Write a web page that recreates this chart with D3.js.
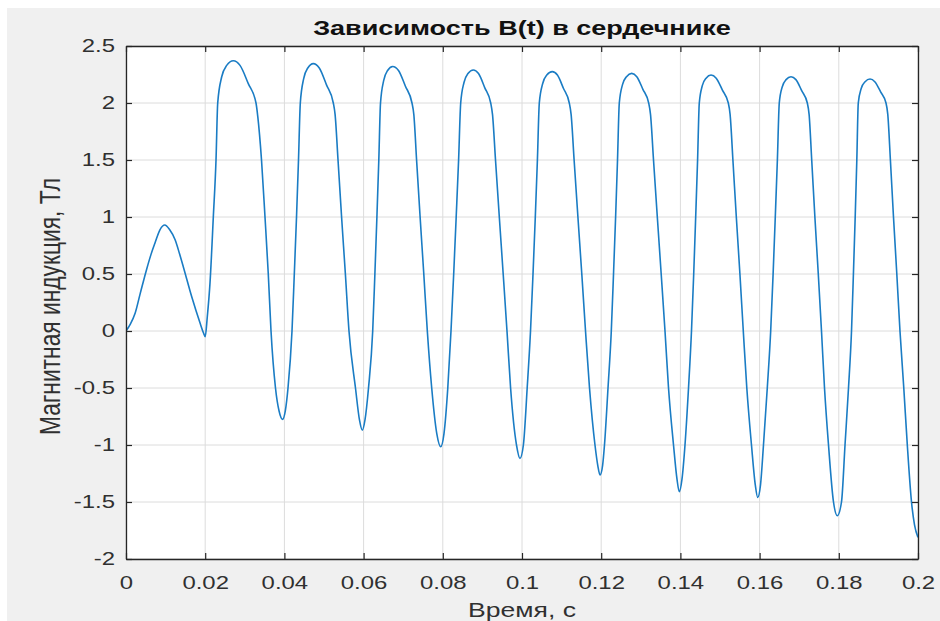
<!DOCTYPE html>
<html>
<head>
<meta charset="utf-8">
<script src="https://cdn.jsdelivr.net/npm/d3@7/dist/d3.min.js"></script>
<style>
  body { margin: 0; background: #ffffff; }
  svg text { font-family: "Liberation Sans", Arial, Helvetica, sans-serif; }
</style>
</head>
<body>
<svg id="chart" width="940" height="621"></svg>
<script>
// Time samples, s (one row per supply period)
const time = [
  0, 0.0011, 0.0023, 0.0036, 0.0052, 0.0063, 0.0073, 0.0086, 0.0098, 0.0110, 0.0124, 0.0135, 0.0145, 0.0166, 0.0187, 0.0196, 0.0200,
  0.02053, 0.02121, 0.02205, 0.02273, 0.02316, 0.02417, 0.02543, 0.02710, 0.02879, 0.03088, 0.03283, 0.03328, 0.03422, 0.03510, 0.03593, 0.03662, 0.03775, 0.03864, 0.03952, 0.04023, 0.04091, 0.04192,
  0.04250, 0.04306, 0.04356, 0.04402, 0.04487, 0.04591, 0.04730, 0.04881, 0.05063, 0.05235, 0.05280, 0.05354, 0.05444, 0.05540, 0.05631, 0.05795, 0.05896, 0.05967, 0.06035, 0.06124, 0.06230,
  0.06285, 0.06336, 0.06384, 0.06427, 0.06508, 0.06606, 0.06735, 0.06881, 0.07056, 0.07222, 0.07268, 0.07338, 0.07427, 0.07520, 0.07609, 0.07720, 0.07848, 0.07947, 0.08030, 0.08126, 0.08207,
  0.08275, 0.08338, 0.08399, 0.08452, 0.08535, 0.08636, 0.08770, 0.08902, 0.09061, 0.09210, 0.09255, 0.09331, 0.09427, 0.09525, 0.09621, 0.09712, 0.09861, 0.09949, 0.10035, 0.10131, 0.10215,
  0.10278, 0.10336, 0.10389, 0.10437, 0.10523, 0.10626, 0.10765, 0.10894, 0.11048, 0.11194, 0.11240, 0.11316, 0.11412, 0.11510, 0.11604, 0.11705, 0.11843, 0.11914, 0.11970, 0.12035, 0.12083, 0.12172, 0.12255,
  0.12311, 0.12364, 0.12412, 0.12457, 0.12538, 0.12639, 0.12770, 0.12899, 0.13053, 0.13199, 0.13245, 0.13321, 0.13417, 0.13515, 0.13611, 0.13700, 0.13826, 0.13914, 0.13972, 0.14040, 0.14116, 0.14205, 0.14280,
  0.14336, 0.14386, 0.14434, 0.14477, 0.14553, 0.14649, 0.14773, 0.14904, 0.15061, 0.15210, 0.15255, 0.15326, 0.15412, 0.15503, 0.15588, 0.15677, 0.15795, 0.15891, 0.15952, 0.16023, 0.16098, 0.16194, 0.16280,
  0.16341, 0.16396, 0.16449, 0.16497, 0.16573, 0.16669, 0.16793, 0.16917, 0.17066, 0.17205, 0.17250, 0.17316, 0.17396, 0.17482, 0.17563, 0.17639, 0.17740, 0.17866, 0.17962, 0.18068, 0.18157, 0.18245, 0.18321,
  0.18369, 0.18414, 0.18455, 0.18492, 0.18568, 0.18664, 0.18788, 0.18909, 0.19056, 0.19192, 0.19237, 0.19303, 0.19381, 0.19465, 0.19545, 0.19641, 0.19730, 0.19836, 0.19912, 0.20000
];

// Magnetic induction in the core, T
const induction = [
  0, 0.06, 0.155, 0.33, 0.54, 0.67, 0.77, 0.89, 0.93, 0.89, 0.80, 0.68, 0.56, 0.30, 0.07, -0.02, -0.05,
  0.125, 0.42, 1.0, 1.5, 2.0, 2.23, 2.33, 2.37, 2.33, 2.17, 2.0, 1.88, 1.5, 1.0, 0.5, 0, -0.5, -0.7, -0.775, -0.7, -0.5, 0,
  0.5, 1.0, 1.5, 2.0, 2.214, 2.307, 2.345, 2.307, 2.159, 2.0, 1.9, 1.5, 1.0, 0.5, 0, -0.5, -0.78, -0.87, -0.78, -0.5, 0,
  0.5, 1.0, 1.5, 2.0, 2.198, 2.285, 2.32, 2.285, 2.147, 2.0, 1.9, 1.5, 1.0, 0.5, 0, -0.5, -0.9, -1.015, -0.9, -0.5, 0,
  0.5, 1.0, 1.5, 2.0, 2.18, 2.258, 2.29, 2.258, 2.133, 2.0, 1.9, 1.5, 1.0, 0.5, 0, -0.5, -1.0, -1.117, -1.0, -0.5, 0,
  0.5, 1.0, 1.5, 2.0, 2.171, 2.245, 2.275, 2.245, 2.127, 2.0, 1.9, 1.5, 1.0, 0.5, 0, -0.5, -1.0, -1.18, -1.263, -1.18, -1.0, -0.5, 0,
  0.5, 1.0, 1.5, 2.0, 2.161, 2.231, 2.26, 2.231, 2.12, 2.0, 1.9, 1.5, 1.0, 0.5, 0, -0.5, -1.0, -1.3, -1.41, -1.3, -1.0, -0.5, 0,
  0.5, 1.0, 1.5, 2.0, 2.152, 2.218, 2.245, 2.218, 2.113, 2.0, 1.9, 1.5, 1.0, 0.5, 0, -0.5, -1.0, -1.35, -1.46, -1.35, -1.0, -0.5, 0,
  0.5, 1.0, 1.5, 2.0, 2.143, 2.205, 2.23, 2.205, 2.106, 2.0, 1.9, 1.5, 1.0, 0.5, 0, -0.5, -1.0, -1.5, -1.62, -1.5, -1.0, -0.5, 0,
  0.5, 1.0, 1.5, 2.0, 2.13, 2.187, 2.21, 2.187, 2.097, 2.0, 1.9, 1.5, 1.0, 0.5, 0, -0.5, -1.0, -1.5, -1.7, -1.81
];

const xTicks = [0, 0.02, 0.04, 0.06, 0.08, 0.1, 0.12, 0.14, 0.16, 0.18, 0.2];
const xTickLabels = ["0", "0.02", "0.04", "0.06", "0.08", "0.1", "0.12", "0.14", "0.16", "0.18", "0.2"];
const yTicks = [-2, -1.5, -1, -0.5, 0, 0.5, 1, 1.5, 2, 2.5];
const yTickLabels = ["-2", "-1.5", "-1", "-0.5", "0", "0.5", "1", "1.5", "2", "2.5"];

const titleText = "Зависимость B(t) в сердечнике";
const xLabelText = "Время, с";
const yLabelText = "Магнитная индукция, Тл";

// ---- layout ----
const W = 940, H = 621;
const box = { left: 126, top: 46, right: 918, bottom: 559 };
const stretch = 1.33;           // horizontal stretch of all lettering
const axisColor = "#262626";

const svg = d3.select("#chart");

svg.append("rect").attr("width", W).attr("height", H).attr("fill", "#ffffff");
svg.append("rect").attr("x", 7).attr("y", 8).attr("width", W - 7).attr("height", H - 8).attr("fill", "#f0f0f0");

const x = d3.scaleLinear().domain([0, 0.2]).range([box.left, box.right]);
const y = d3.scaleLinear().domain([-2, 2.5]).range([box.bottom, box.top]);

// plot area
svg.append("rect")
  .attr("x", box.left).attr("y", box.top)
  .attr("width", box.right - box.left).attr("height", box.bottom - box.top)
  .attr("fill", "#ffffff");

// grid
const grid = svg.append("g").attr("stroke", "#dcdcdc").attr("stroke-width", 1);
grid.selectAll("line.v").data(xTicks).join("line").attr("class", "v")
  .attr("x1", d => x(d)).attr("x2", d => x(d))
  .attr("y1", box.top).attr("y2", box.bottom);
grid.selectAll("line.h").data(yTicks).join("line").attr("class", "h")
  .attr("x1", box.left).attr("x2", box.right)
  .attr("y1", d => y(d)).attr("y2", d => y(d));

// curve B(t)
svg.append("clipPath").attr("id", "plotClip")
  .append("rect")
  .attr("x", box.left).attr("y", box.top)
  .attr("width", box.right - box.left).attr("height", box.bottom - box.top);

const points = time.map((t, i) => [t, induction[i]]);
const line = d3.line()
  .x(d => x(d[0]))
  .y(d => y(d[1]))
  .curve(d3.curveMonotoneX);

svg.append("path")
  .datum(points)
  .attr("clip-path", "url(#plotClip)")
  .attr("fill", "none")
  .attr("stroke", "#1a7cc4")
  .attr("stroke-width", 1.6)
  .attr("stroke-linejoin", "round")
  .attr("d", line);

// axes: ticks point inward on all four sides
function styleAxis(g) {
  g.select(".domain").attr("stroke", axisColor).attr("stroke-width", 1.3);
  g.selectAll(".tick line").attr("stroke", axisColor).attr("stroke-width", 1.2);
  g.selectAll(".tick text")
    .attr("fill", "#303030")
    .style("font-size", "18px")
    .style("font-family", '"Liberation Sans", Arial, sans-serif');
}

const xAxis = svg.append("g")
  .attr("transform", `translate(0,${box.bottom})`)
  .call(d3.axisBottom(x).tickValues(xTicks).tickSize(-6).tickSizeOuter(0)
    .tickPadding(17).tickFormat((d, i) => xTickLabels[i]));
styleAxis(xAxis);
xAxis.selectAll(".tick text").attr("transform", `scale(${stretch},1)`);

const yAxis = svg.append("g")
  .attr("transform", `translate(${box.left},0)`)
  .call(d3.axisLeft(y).tickValues(yTicks).tickSize(-6).tickSizeOuter(0)
    .tickPadding(8.3).tickFormat((d, i) => yTickLabels[i]));
styleAxis(yAxis);
yAxis.selectAll(".tick text").attr("transform", `scale(${stretch},1)`);

const topAxis = svg.append("g")
  .attr("transform", `translate(0,${box.top})`)
  .call(d3.axisTop(x).tickValues(xTicks).tickSize(-6).tickSizeOuter(0).tickFormat(""));
styleAxis(topAxis);

const rightAxis = svg.append("g")
  .attr("transform", `translate(${box.right},0)`)
  .call(d3.axisRight(y).tickValues(yTicks).tickSize(-6).tickSizeOuter(0).tickFormat(""));
styleAxis(rightAxis);

// title
const title = svg.append("text")
  .attr("text-anchor", "middle")
  .attr("fill", "#111111")
  .style("font-size", "20px")
  .style("font-weight", "bold")
  .text(titleText);
const titleScale = 418 / title.node().getComputedTextLength();
title.attr("transform", `translate(${(box.left + box.right) / 2},35) scale(${titleScale},1)`);

// x label
const xLabel = svg.append("text")
  .attr("text-anchor", "middle")
  .attr("fill", "#303030")
  .style("font-size", "20px")
  .text(xLabelText);
const xLabelScale = 108 / xLabel.node().getComputedTextLength();
xLabel.attr("transform", `translate(${(box.left + box.right) / 2},617) scale(${xLabelScale},1)`);

// y label
const yLabel = svg.append("text")
  .attr("text-anchor", "middle")
  .attr("fill", "#303030")
  .style("font-size", "20px")
  .text(yLabelText);
const yFont = 20 * 257 / yLabel.node().getComputedTextLength();
yLabel.style("font-size", yFont + "px")
  .attr("transform", `translate(60,306.5) scale(${stretch},1) rotate(-90)`);
</script>
</body>
</html>
